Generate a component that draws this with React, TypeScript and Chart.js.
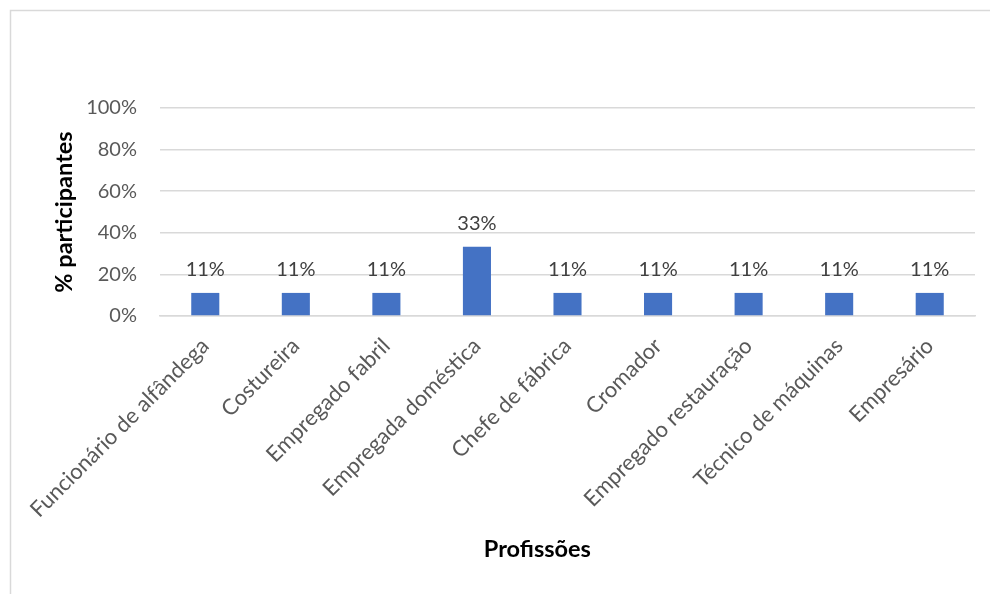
import React, { useEffect, useRef } from "react";
import { Chart, registerables } from "chart.js";

Chart.register(...registerables);

const categories = [
  "Funcionário de alfândega",
  "Costureira",
  "Empregado fabril",
  "Empregada doméstica",
  "Chefe de fábrica",
  "Cromador",
  "Empregado restauração",
  "Técnico de máquinas",
  "Empresário",
];
const values = [11.1, 11.1, 11.1, 33.3, 11.1, 11.1, 11.1, 11.1, 11.1];
const yTicks = [0, 20, 40, 60, 80, 100];
const yTitle = "% participantes";
const xTitle = "Profissões";

const FONT = "Lato, Carlito, 'Open Sans', sans-serif";

const frame = {
  id: "frame",
  beforeDraw(chart: any) {
    const ctx = chart.ctx;
    ctx.save();
    ctx.fillStyle = "#ffffff";
    ctx.fillRect(0, 0, chart.width, chart.height);
    ctx.strokeStyle = "#d9d9d9";
    ctx.lineWidth = 1.5;
    ctx.strokeRect(10.5, 10.5, chart.width + 10, chart.height + 10);
    ctx.restore();
  },
};

const titles = {
  id: "titles",
  afterDraw(chart: any) {
    const ctx = chart.ctx;
    const a = chart.chartArea;
    ctx.save();
    ctx.fillStyle = "#000000";
    ctx.font = `bold 23.5px ${FONT}`;
    ctx.textAlign = "center";
    ctx.textBaseline = "middle";
    ctx.fillText(xTitle, a.left + (a.right - a.left) * 0.463, 549);
    ctx.translate(64, (a.top + a.bottom) / 2);
    ctx.rotate(-Math.PI / 2);
    ctx.fillText(yTitle, 0, 0);
    ctx.restore();
  },
};

const dataLabels = {
  id: "dataLabels",
  afterDatasetsDraw(chart: any) {
    const ctx = chart.ctx;
    const meta = chart.getDatasetMeta(0);
    ctx.save();
    ctx.font = `20px ${FONT}`;
    ctx.fillStyle = "#404040";
    ctx.textAlign = "center";
    ctx.textBaseline = "bottom";
    meta.data.forEach((el: any, i: number) => {
      const v = chart.data.datasets[0].data[i];
      ctx.fillText(Math.round(v) + "%", el.x, el.y - 13);
    });
    ctx.restore();
  },
};

export default function App() {
  const ref = useRef<HTMLCanvasElement>(null);
  useEffect(() => {
    if (!ref.current) return;
    const chart = new Chart(ref.current, {
      type: "bar",
      data: {
        labels: categories,
        datasets: [
          {
            data: values,
            backgroundColor: "#4472c4",
            borderWidth: 0,
            categoryPercentage: 1,
            barPercentage: 0.31,
          },
        ],
      },
      options: {
        animation: false,
        responsive: false,
        maintainAspectRatio: false,
        layout: { padding: { top: 108, right: 15, left: 0, bottom: 0 } },
        plugins: { legend: { display: false }, tooltip: { enabled: false } },
        scales: {
          x: {
            grid: { display: false },
            border: { display: true, color: "#d9d9d9", width: 1.5 },
            ticks: {
              color: "#595959",
              font: { family: FONT, size: 22 },
              minRotation: 45,
              maxRotation: 45,
              padding: 9,
              autoSkip: false,
            },
            afterFit(scale: any) {
              scale.height = 594 - 316;
            },
          },
          y: {
            min: 0,
            max: 100,
            afterBuildTicks(scale: any) {
              scale.ticks = yTicks.map((v) => ({ value: v }));
            },
            grid: { color: "#d9d9d9", lineWidth: 1.5, drawTicks: false },
            border: { display: false },
            ticks: {
              color: "#595959",
              font: { family: FONT, size: 20 },
              padding: 23,
              callback: (v: any) => v + "%",
            },
            afterFit(scale: any) {
              scale.width = 160;
            },
          },
        },
      },
      plugins: [frame, dataLabels, titles],
    });
    return () => chart.destroy();
  }, []);
  return (
    <div style={{ position: "fixed", left: 0, top: 0, width: 990, height: 594 }}>
      <canvas ref={ref} width={990} height={594} style={{ width: 990, height: 594 }} />
    </div>
  );
}
